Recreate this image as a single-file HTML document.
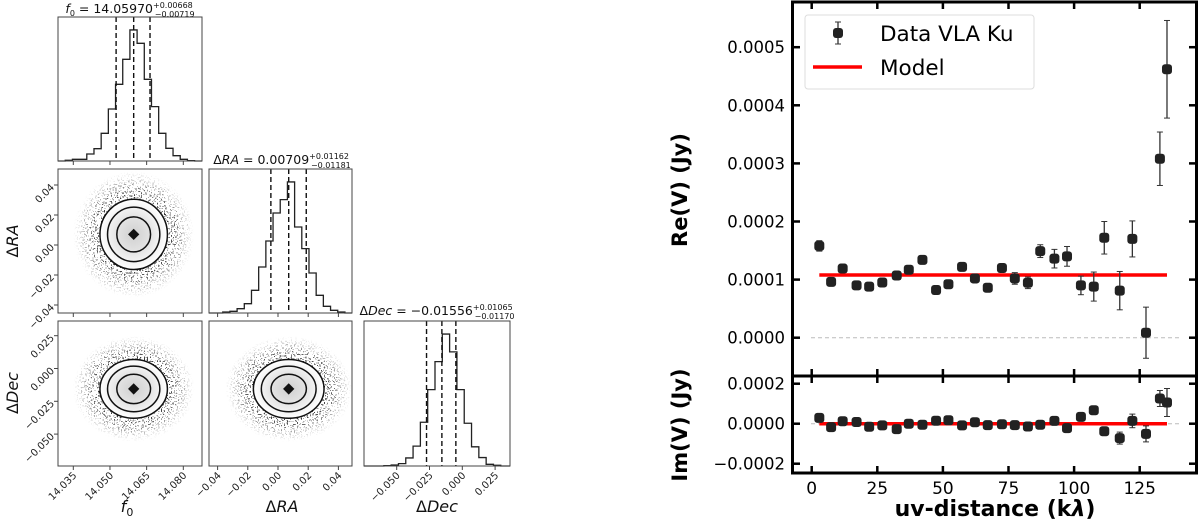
<!DOCTYPE html>
<html><head><meta charset="utf-8"><style>
html,body{margin:0;padding:0;background:#fff;width:1200px;height:522px;overflow:hidden}
svg{display:block;font-family:"DejaVu Sans","Liberation Sans",sans-serif}
</style></head><body>
<svg id="fig" width="1200" height="522" viewBox="0 0 1200 522" xmlns="http://www.w3.org/2000/svg">
<defs>
<radialGradient id="cloud" cx="50%" cy="50%" r="50%">
<stop offset="0" stop-color="#333"/>
<stop offset="0.57" stop-color="#333"/>
<stop offset="0.72" stop-color="#555" stop-opacity="0.85"/>
<stop offset="0.87" stop-color="#888" stop-opacity="0.45"/>
<stop offset="1" stop-color="#aaa" stop-opacity="0"/>
</radialGradient>
<radialGradient id="core" cx="50%" cy="50%" r="50%">
<stop offset="0" stop-color="#d0d0d0"/>
<stop offset="0.5" stop-color="#e3e3e3"/>
<stop offset="0.8" stop-color="#f4f4f4"/>
<stop offset="1" stop-color="#ffffff"/>
</radialGradient>
<filter id="speck" x="0" y="0" width="1" height="1">
<feTurbulence type="fractalNoise" baseFrequency="0.7" numOctaves="1" seed="4" result="n"/>
<feComponentTransfer in="n" result="m"><feFuncA type="discrete" tableValues="0 0 0 1 1"/></feComponentTransfer>
<feComposite in="SourceGraphic" in2="m" operator="in"/>
</filter>
</defs>
<g id="corner"></g>
<g id="right"></g>
</svg>
<script>
// ---------- corner plot data ----------
const f0Counts = [2,5,5,21,37,83,156,230,305,393,353,245,163,83,38,16,5,1];
const f0Start = 14.0317, f0Width = 0.00294;
const raCounts = [3,5,13,28,68,138,216,300,340,393,258,193,120,53,20,8,3];
const raStart = -0.0366, raWidth = 0.00476;
const decCounts = [1,3,7,24,59,130,227,310,392,339,227,127,57,25,5,2];
const decStart = -0.0598, decWidth = 0.00557;
const f0Quantiles = [14.05251, 14.05970, 14.06638];
const raQuantiles = [-0.00472, 0.00709, 0.01871];
const decQuantiles = [-0.02726, -0.01556, -0.00491];
const f0Ticks = [14.035, 14.050, 14.065, 14.080];
const f0TickLabels = ["14.035","14.050","14.065","14.080"];
const raTicks = [-0.04, -0.02, 0.00, 0.02, 0.04];
const raTickLabels = ["\u22120.04","\u22120.02","0.00","0.02","0.04"];
const decTicks = [-0.050, -0.025, 0.000, 0.025];
const decTickLabels = ["\u22120.050","\u22120.025","0.000","0.025"];
const sigF0 = 0.0069, sigRA = 0.0117, sigDec = 0.0112;
const contourLevels = [1.0, 1.55, 2.0];

// ---------- visibility data ----------
const uvDist = [2.9,7.4,11.8,17.1,21.9,26.9,32.4,37,42.2,47.4,52.1,57.3,62.2,67.1,72.5,77.4,82.4,87.1,92.5,97.3,102.6,107.5,111.5,117.4,122.2,127.4,132.7,135.4];
const reVals = [1.58,0.96,1.19,0.90,0.88,0.95,1.07,1.17,1.34,0.82,0.92,1.22,1.02,0.86,1.20,1.02,0.945,1.49,1.36,1.40,0.90,0.88,1.72,0.81,1.70,0.086,3.08,4.62];
const reErr = [0.09,0.04,0.05,0.04,0.04,0.04,0.05,0.05,0.05,0.05,0.05,0.05,0.05,0.06,0.06,0.1,0.1,0.11,0.16,0.17,0.16,0.25,0.28,0.33,0.31,0.44,0.46,0.84];
const imVals = [0.29,-0.17,0.12,0.085,-0.15,-0.085,-0.27,0,-0.05,0.15,0.17,-0.085,0.07,-0.07,-0.03,-0.07,-0.14,-0.05,0.14,-0.22,0.34,0.67,-0.38,-0.72,0.14,-0.51,1.26,1.06];
const imErr = [0.05,0.05,0.05,0.05,0.05,0.05,0.06,0.05,0.05,0.05,0.06,0.06,0.06,0.06,0.06,0.06,0.06,0.06,0.07,0.08,0.1,0.1,0.2,0.3,0.34,0.4,0.4,0.7];
const modelRe = 1.08, modelIm = 0.0, modelRange = [2.9, 135.4];
const reTicks = [0,1,2,3,4,5];
const reTickLabels = ["0.0000","0.0001","0.0002","0.0003","0.0004","0.0005"];
const imTicks = [-2,0,2];
const imTickLabels = ["\u22120.0002","0.0000","0.0002"];
const uvTicks = [0,25,50,75,100,125];
const uvTickLabels = ["0","25","50","75","100","125"];

const NS = "http://www.w3.org/2000/svg";
function mk(parent, tag, attrs, text){const e=document.createElementNS(NS,tag);for(const k in attrs)e.setAttribute(k,attrs[k]);if(text!==undefined)e.textContent=text;parent.appendChild(e);return e;}

const xF0 = v => 73.3 + (v-14.035)/0.015*36.67;
const xRA = v => 278 + v/0.02*30.2;
const yRA = v => 245 - v/0.02*30;
const xDec = v => 462.3 + v/0.025*32.8;
const yDec = v => 368.5 - v/0.025*32.8;
const cols = [[58,202],[209,352],[364,510]];
const rows = [[17,161],[169,313],[321,466]];

const C = document.getElementById('corner');

function panelBox(c,r,name){
  const b = mk(C,'rect',{x:cols[c][0],y:rows[r][0],width:cols[c][1]-cols[c][0],height:rows[r][1]-rows[r][0],fill:'none',stroke:'#444','stroke-width':1});
  
  
}
function hist(c,r,counts,start,width,xs,quant,name){
  const g = mk(C,'g',{});
  
  
  const bot = rows[r][1], h = rows[r][1]-rows[r][0];
  const mx = Math.max(...counts);
  let d = 'M'+cols[c][0]+','+bot;
  counts.forEach((n,i)=>{
    const x0 = xs(start+i*width), x1 = xs(start+(i+1)*width);
    const y = bot - n/mx*h*0.91;
    d += ' L'+x0+','+(i===0?bot:y)+' L'+x0+','+y+' L'+x1+','+y;
  });
  d += ' L'+xs(start+counts.length*width)+','+bot+' L'+cols[c][1]+','+bot;
  const p = mk(g,'path',{d:d,fill:'none',stroke:'#222','stroke-width':1.3});
  
  
  quant.forEach(q=>{
    const l = mk(g,'line',{x1:xs(q),x2:xs(q),y1:rows[r][0],y2:bot,stroke:'#111','stroke-width':1.4,'stroke-dasharray':'5,3'});
    
    
  });
}
function density(c,r,xs,ys,cx,cy,sx,sy,name){
  const g = mk(C,'g',{});
  
  
  const X = xs(cx), Y = ys(cy);
  const rx = Math.abs(xs(cx+sx)-X), ry = Math.abs(ys(cy+sy)-Y);
  const cloud = mk(g,'ellipse',{cx:X,cy:Y,rx:rx*3.6,ry:ry*3.6,fill:'url(#cloud)',filter:'url(#speck)'});
  
  
  const core = mk(g,'ellipse',{cx:X,cy:Y,rx:rx*2.0,ry:ry*2.0,fill:'url(#core)'});
  
  
  contourLevels.forEach(lv=>{
    const e = mk(g,'ellipse',{cx:X,cy:Y,rx:rx*lv,ry:ry*lv,fill:'none',stroke:'#111','stroke-width':1.5});
    
    
  });
  const m = mk(g,'rect',{x:X-4,y:Y-4,width:8,height:8,fill:'#111',transform:'rotate(45 '+X+' '+Y+')'});
  
  
}
density(0,1,xF0,yRA,f0Quantiles[1],raQuantiles[1],sigF0,sigRA,'density-f0-ra');
density(0,2,xF0,yDec,f0Quantiles[1],decQuantiles[1],sigF0,sigDec,'density-f0-dec');
density(1,2,xRA,yDec,raQuantiles[1],decQuantiles[1],sigRA,sigDec,'density-ra-dec');
[[0,0,58,522],[202,160,7,362],[352,160,12,362],[0,313,364,8],[0,466,520,56],[0,161,209,8],[510,300,20,222]].forEach(a=>{
  const w = mk(C,'rect',{x:a[0],y:a[1],width:a[2],height:a[3],fill:'#fff'});
  
  
});
hist(0,0,f0Counts,f0Start,f0Width,xF0,f0Quantiles,'histogram-f0');
hist(1,1,raCounts,raStart,raWidth,xRA,raQuantiles,'histogram-ra');
hist(2,2,decCounts,decStart,decWidth,xDec,decQuantiles,'histogram-dec');
panelBox(0,0,'panel-f0');panelBox(0,1,'panel-f0-ra');panelBox(1,1,'panel-ra');
panelBox(0,2,'panel-f0-dec');panelBox(1,2,'panel-ra-dec');panelBox(2,2,'panel-dec');

function xticks(c,rowsIdx,ticks,labels,xs,withLabels){
  rowsIdx.forEach(r=>{
    ticks.forEach((t,i)=>{
      const x = xs(t), y = rows[r][1];
      const tk = mk(C,'line',{x1:x,x2:x,y1:y,y2:y+4,stroke:'#444','stroke-width':1});
      
      
      if(withLabels){
        const tx = mk(C,'text',{x:x+4,y:y+10,'font-size':10,'text-anchor':'end',transform:'rotate(-45 '+(x+4)+' '+(y+10)+')',fill:'#222'},labels[i]);
        
        
      }
    });
  });
}
function yticks(r,ticks,labels,ys){
  ticks.forEach((t,i)=>{
    const y = ys(t), x = 58;
    const tk = mk(C,'line',{x1:x-4,x2:x,y1:y,y2:y,stroke:'#444','stroke-width':1});
    
    
    const tx = mk(C,'text',{x:x-6,y:y+4,'font-size':10,'text-anchor':'end',transform:'rotate(-45 '+(x-6)+' '+y+')',fill:'#222'},labels[i]);
    
    
  });
}
xticks(0,[0,1],f0Ticks,f0TickLabels,xF0,false);
xticks(0,[2],f0Ticks,f0TickLabels,xF0,true);
xticks(1,[1],raTicks,raTickLabels,xRA,false);
xticks(1,[2],raTicks,raTickLabels,xRA,true);
xticks(2,[2],decTicks,decTickLabels,xDec,true);
yticks(1,raTicks,raTickLabels,yRA);
yticks(2,decTicks,decTickLabels,yDec);

// ---------- right plot ----------
const R = document.getElementById('right');
const xUV = u => 811.7 + u/25*65.6;
const yRe = v => 337.7 - v*58.1;
const yIm = v => 423.7 - v*20;
function rmk(tag,attrs,name,text){const e=mk(R,tag,attrs,text);return e;}

rmk('line',{x1:811,x2:1182,y1:yRe(0),y2:yRe(0),stroke:'#bbb','stroke-width':1,'stroke-dasharray':'4,3'},'zero-line-re');
rmk('line',{x1:811,x2:1182,y1:yIm(0),y2:yIm(0),stroke:'#bbb','stroke-width':1,'stroke-dasharray':'4,3'},'zero-line-im');

function points(vals,errs,ys,prefix){
  vals.forEach((v,i)=>{
    const x = xUV(uvDist[i]), y = ys(v), y1 = ys(v+errs[i]), y2 = ys(v-errs[i]);
    const g = mk(R,'g',{});
    
    
    mk(g,'line',{x1:x,x2:x,y1:y1,y2:y2,stroke:'#333','stroke-width':1.3});
    mk(g,'line',{x1:x-3,x2:x+3,y1:y1,y2:y1,stroke:'#333','stroke-width':1});
    mk(g,'line',{x1:x-3,x2:x+3,y1:y2,y2:y2,stroke:'#333','stroke-width':1});
    mk(g,'rect',{x:x-5,y:y-5,width:10,height:10,rx:3,fill:'#222'});
  });
}
rmk('line',{x1:xUV(modelRange[0]),x2:xUV(modelRange[1]),y1:yRe(modelRe),y2:yRe(modelRe),stroke:'#ff0000','stroke-width':3.5},'model-line-re');
rmk('line',{x1:xUV(modelRange[0]),x2:xUV(modelRange[1]),y1:yIm(modelIm),y2:yIm(modelIm),stroke:'#ff0000','stroke-width':3.5},'model-line-im');
points(reVals,reErr,yRe,'re');
points(imVals,imErr,yIm,'im');

rmk('rect',{x:792.5,y:2,width:404,height:374,fill:'none',stroke:'#000','stroke-width':3},'re-axes-frame');
rmk('rect',{x:792.5,y:376,width:404,height:97,fill:'none',stroke:'#000','stroke-width':3},'im-axes-frame');
uvTicks.forEach((t,i)=>{
  const x = xUV(t);
  [[2,9],[376,369],[376,383],[473,466]].forEach(p=>rmk('line',{x1:x,x2:x,y1:p[0],y2:p[1],stroke:'#000','stroke-width':2.5},'x-tick'));
  rmk('text',{x:x,y:494,'font-size':17,'text-anchor':'middle'},'x-tick-label',uvTickLabels[i]);
});
reTicks.forEach((t,i)=>{
  const y = yRe(t);
  rmk('line',{x1:792,x2:800,y1:y,y2:y,stroke:'#000','stroke-width':2.5},'y-tick');
  rmk('line',{x1:1189,x2:1197,y1:y,y2:y,stroke:'#000','stroke-width':2.5},'y-tick');
  rmk('text',{x:785,y:y+6,'font-size':16.5,'text-anchor':'end'},'y-tick-label',reTickLabels[i]);
});
imTicks.forEach((t,i)=>{
  const y = yIm(t);
  rmk('line',{x1:792,x2:800,y1:y,y2:y,stroke:'#000','stroke-width':2.5},'y-tick');
  rmk('line',{x1:1189,x2:1197,y1:y,y2:y,stroke:'#000','stroke-width':2.5},'y-tick');
  rmk('text',{x:785,y:y+6,'font-size':16.5,'text-anchor':'end'},'y-tick-label',imTickLabels[i]);
});
</script>
<svg width="1200" height="522" style="position:absolute;left:0;top:0" viewBox="0 0 1200 522">
<g font-family="'DejaVu Sans','Liberation Sans',sans-serif" fill="#111">
<text x="130" y="13" font-size="12.5" text-anchor="middle"><tspan font-style="italic">f</tspan><tspan font-size="8" dy="3">0</tspan><tspan dy="-3"> = 14.05970</tspan><tspan font-size="8" dy="-5">+0.00668</tspan><tspan font-size="8" dx="-38" dy="9">−0.00719</tspan></text>
<text x="282" y="164" font-size="12.5" text-anchor="middle">Δ<tspan font-style="italic">RA</tspan> = 0.00709<tspan font-size="8" dy="-5">+0.01162</tspan><tspan font-size="8" dx="-38" dy="9">−0.01181</tspan></text>
<text x="437" y="315" font-size="12.5" text-anchor="middle">Δ<tspan font-style="italic">Dec</tspan> = −0.01556<tspan font-size="8" dy="-5">+0.01065</tspan><tspan font-size="8" dx="-38" dy="9">−0.01170</tspan></text>
<text x="127" y="512" font-size="16" text-anchor="middle" font-style="italic">f<tspan font-size="11" dy="4" font-style="normal">0</tspan></text>
<text x="282" y="512" font-size="16" text-anchor="middle">Δ<tspan font-style="italic">RA</tspan></text>
<text x="437" y="512" font-size="16" text-anchor="middle">Δ<tspan font-style="italic">Dec</tspan></text>
<text x="0" y="0" font-size="16" text-anchor="middle" transform="translate(18 241) rotate(-90)">Δ<tspan font-style="italic">RA</tspan></text>
<text x="0" y="0" font-size="16" text-anchor="middle" transform="translate(18 393) rotate(-90)">Δ<tspan font-style="italic">Dec</tspan></text>
</g>
<g font-family="'DejaVu Sans','Liberation Sans',sans-serif" fill="#000">
<text x="0" y="0" font-size="21" font-weight="bold" text-anchor="middle" transform="translate(687 190) rotate(-90)">Re(V) (Jy)</text>
<text x="0" y="0" font-size="21" font-weight="bold" text-anchor="middle" transform="translate(687 425) rotate(-90)">Im(V) (Jy)</text>
<text x="995" y="516" font-size="22" font-weight="bold" text-anchor="middle">uv-distance (k<tspan font-style="italic">λ</tspan>)</text>
<g>
<rect x="805" y="15" width="229" height="74" rx="3" fill="#fff" fill-opacity="0.85" stroke="#ddd"/>
<g>
<line x1="838" x2="838" y1="22" y2="44" stroke="#333" stroke-width="1.3"/>
<line x1="835" x2="841" y1="22" y2="22" stroke="#333"/><line x1="835" x2="841" y1="44" y2="44" stroke="#333"/>
<rect x="833" y="28" width="10" height="10" rx="3" fill="#222"/>
<text x="880" y="41" font-size="21.5">Data VLA Ku</text>
</g>
<g>
<line x1="813" x2="862" y1="67" y2="67" stroke="#ff0000" stroke-width="3.5"/>
<text x="880" y="75" font-size="21.5">Model</text>
</g>
</g>
</g>
</svg>
</body></html>
